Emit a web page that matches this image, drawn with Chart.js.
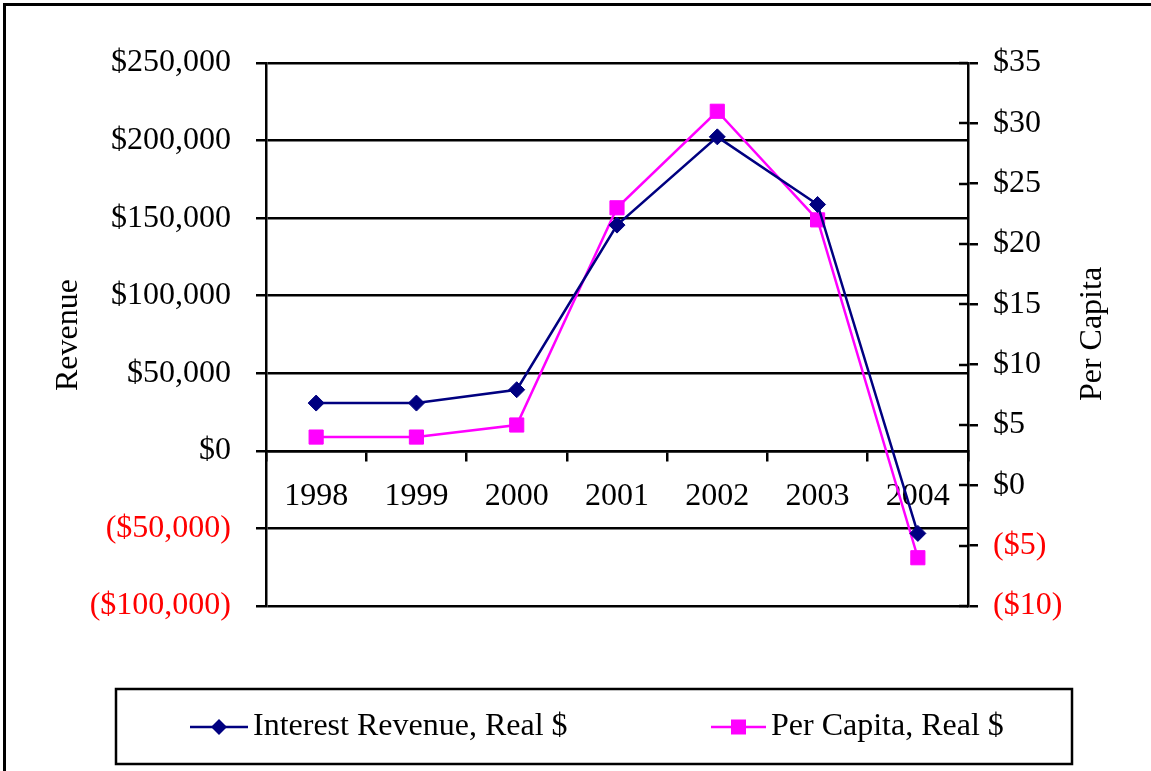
<!DOCTYPE html>
<html>
<head>
<meta charset="utf-8">
<script src="https://cdn.jsdelivr.net/npm/chart.js@4/dist/chart.umd.min.js"></script>
<style>
  html, body { margin: 0; padding: 0; background: #fff; }
  canvas { display: block; }
</style>
</head>
<body>
<canvas id="chart" width="1151" height="771"></canvas>
<script>
const years = ["1998", "1999", "2000", "2001", "2002", "2003", "2004"]
const interestRevenue = [30800, 30800, 39400, 145500, 202400, 158800, -53200]
const perCapita = [4, 4, 5, 23, 31, 22, -6]

const seriesNames = ["Interest Revenue, Real $", "Per Capita, Real $"]
const leftTitle = "Revenue"
const rightTitle = "Per Capita"

const FONT = "'Liberation Serif', 'Times New Roman', serif"
const NAVY = "#000080"
const MAGENTA = "#ff00ff"

Chart.defaults.font.family = FONT
Chart.defaults.font.size = 32
Chart.defaults.color = "#000"

const money = (v) => {
    const s = "$" + Math.abs(v).toLocaleString("en-US")
    return v < 0 ? "(" + s + ")" : s
}
const negRed = (ctx) => (ctx.tick && ctx.tick.value < 0) ? "#ff0000" : "#000"

// marker used in the legend, same shapes as the chart points
function marker(ctx, style, x, y, color) {
    ctx.save()
    ctx.fillStyle = color
    ctx.beginPath()
    if (style === "rectRot") {
        const r = 8
        ctx.moveTo(x - r, y); ctx.lineTo(x, y - r); ctx.lineTo(x + r, y); ctx.lineTo(x, y + r)
        ctx.closePath()
    } else {
        ctx.rect(x - 7.5, y - 7.5, 15, 15)
    }
    ctx.fill()
    ctx.restore()
}

const frameAndLegend = {
    id: "frameAndLegend",
    afterDraw(chart) {
        const ctx = chart.ctx
        const area = chart.chartArea
        ctx.save()

        // right axis ticks cross the axis line: draw the inner half
        const y2 = chart.scales.y2
        ctx.strokeStyle = "#000"
        ctx.lineWidth = 2.5
        y2.ticks.forEach((t) => {
            const py = Math.round(y2.getPixelForValue(t.value))
            ctx.beginPath()
            ctx.moveTo(area.right - 9, py)
            ctx.lineTo(area.right, py)
            ctx.stroke()
        })

        // outer frame (right / bottom edges fall outside the picture)
        ctx.lineWidth = 3
        ctx.strokeRect(4.5, 4.5, 1200, 850)

        // axis titles, both reading bottom to top
        ctx.fillStyle = "#000"
        ctx.font = "32px " + FONT
        ctx.textAlign = "center"
        ctx.textBaseline = "middle"
        ctx.save()
        ctx.translate(69, 335)
        ctx.rotate(-Math.PI / 2)
        ctx.fillText(leftTitle, 0, 0)
        ctx.restore()
        ctx.save()
        ctx.translate(1093, 334)
        ctx.rotate(-Math.PI / 2)
        ctx.fillText(rightTitle, 0, 0)
        ctx.restore()

        // legend box
        ctx.lineWidth = 2.5
        ctx.strokeRect(116, 689, 956, 75)
        const items = [
            {x0: 190, x1: 248, tx: 253},
            {x0: 711, x1: 766, tx: 771}
        ]
        chart.data.datasets.forEach((ds, i) => {
            const it = items[i]
            const y = 727
            ctx.strokeStyle = ds.borderColor
            ctx.lineWidth = 2.5
            ctx.beginPath()
            ctx.moveTo(it.x0, y)
            ctx.lineTo(it.x1, y)
            ctx.stroke()
            marker(ctx, ds.pointStyle, (it.x0 + it.x1) / 2, y, ds.borderColor)
            ctx.fillStyle = "#000"
            ctx.textAlign = "left"
            ctx.textBaseline = "middle"
            ctx.fillText(ds.label, it.tx, y)
        })
        ctx.restore()
    }
}

new Chart(document.getElementById("chart"), {
    type: "line",
    data: {
        labels: years,
        datasets: [
            {
                label: seriesNames[0],
                data: interestRevenue,
                yAxisID: "y",
                borderColor: NAVY,
                backgroundColor: NAVY,
                borderWidth: 2.5,
                pointStyle: "rectRot",
                pointRadius: 8,
                pointBorderWidth: 1,
                tension: 0
            },
            {
                label: seriesNames[1],
                data: perCapita,
                yAxisID: "y2",
                borderColor: MAGENTA,
                backgroundColor: MAGENTA,
                borderWidth: 2.5,
                pointStyle: "rect",
                pointRadius: 10,
                pointBorderWidth: 1,
                tension: 0
            }
        ]
    },
    options: {
        responsive: false,
        animation: false,
        layout: {
            padding: {left: 0, right: 0, top: 63, bottom: 165}
        },
        plugins: {
            legend: {display: false},
            tooltip: {enabled: false}
        },
        scales: {
            x: {
                type: "category",
                position: {y: 0},
                offset: true,
                grid: {
                    offset: true,
                    drawOnChartArea: false,
                    color: "#000",
                    lineWidth: 2.5,
                    tickLength: 9
                },
                border: {display: true, color: "#000", width: 2.5},
                ticks: {padding: 18, color: "#000", autoSkip: false, maxRotation: 0}
            },
            y: {
                position: "left",
                min: -100000,
                max: 250000,
                afterFit: (scale) => { scale.width = 266 },
                grid: {
                    color: "#000",
                    lineWidth: 2.5,
                    tickLength: 10
                },
                border: {display: true, color: "#000", width: 2.5},
                ticks: {
                    stepSize: 50000,
                    padding: 25,
                    autoSkip: false,
                    color: negRed,
                    callback: (v) => money(v)
                }
            },
            y2: {
                position: "right",
                min: -10,
                max: 35,
                afterFit: (scale) => { scale.width = 183 },
                grid: {
                    drawOnChartArea: false,
                    color: "#000",
                    lineWidth: 2.5,
                    tickLength: 10
                },
                border: {display: true, color: "#000", width: 2.5},
                ticks: {
                    stepSize: 5,
                    padding: 15,
                    autoSkip: false,
                    color: negRed,
                    callback: (v) => money(v)
                }
            }
        }
    },
    plugins: [frameAndLegend]
})
</script>
</body>
</html>
